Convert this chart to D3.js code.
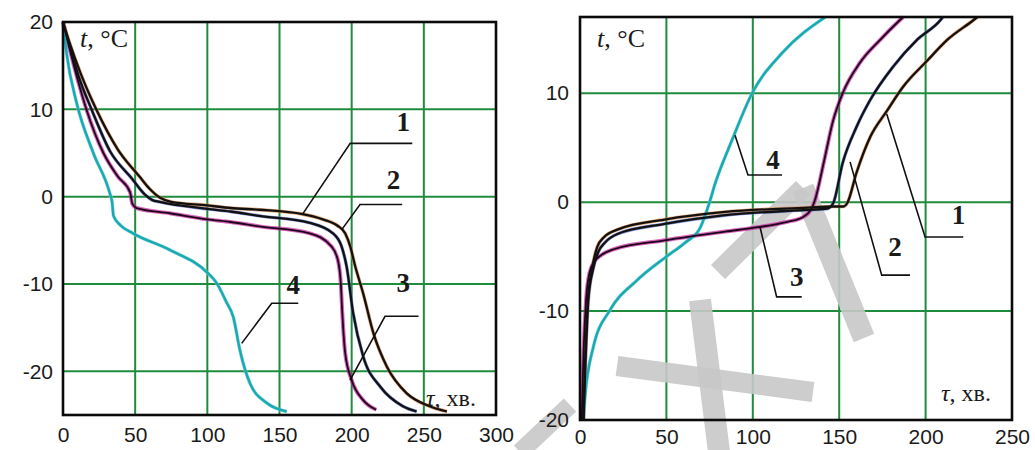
<!DOCTYPE html>
<html>
<head>
<meta charset="utf-8">
<script src="https://cdn.jsdelivr.net/npm/d3@7"></script>
<style>
body{margin:0;background:#fff;}
</style>
</head>
<body>
<svg id="chart" width="1035" height="450"></svg>
<script>
// ---- data: [tau (min), t (°C)] ----
// cooling (left)
var cool1 = [[0,20],[4.6,17.6],[12,14.2],[23,10],[38,5.4],[53,2.3],[60,0.9],[67,-0.1],[75,-0.6],[100,-1.0],[116,-1.3],[136,-1.5],[166,-2.0],[180,-2.6],[190,-3.3],[195.5,-4.2],[199,-5.7],[202.5,-8],[208,-11.1],[215,-15.6],[224.5,-19.5],[238,-22.5],[254,-24],[266,-24.6]];
var cool2 = [[0,20],[4,17.6],[11,13.7],[20,9.9],[32.6,5.2],[47.6,2.1],[57,0.2],[62,-0.4],[67,-0.6],[100,-1.4],[116,-1.7],[136,-2.2],[171,-3.0],[187,-4.2],[193,-5.7],[196.5,-8],[201,-13.3],[208,-18.3],[220,-21.8],[235.5,-24],[245,-24.6]];
var cool3 = [[0,20],[4,17.3],[10,13.5],[16.4,9.9],[28,5],[38,2.3],[46.5,0.5],[48,-0.8],[51,-1.3],[74,-1.9],[100,-2.6],[116,-2.9],[136,-3.4],[171,-4.2],[186,-5.7],[190.5,-7.3],[192.5,-10],[193.5,-13.3],[195.5,-17.9],[200,-21],[208,-23.3],[217,-24.4]];
var cool4 = [[0,20],[2.5,16.4],[9.5,10.7],[21,5],[32.6,0.3],[34,-0.6],[35,-2.2],[40,-3.3],[48.5,-4.2],[74,-6.1],[100,-8.7],[106.5,-9.9],[113,-12],[118,-13.8],[122.6,-17.6],[129.6,-21.4],[141,-23.6],[155,-24.6]];
// heating (right)
var heat1 = [[2,-20],[3,-14.5],[4.6,-9],[6.9,-6.2],[10,-4.1],[14,-3.2],[22,-2.5],[49,-1.6],[84,-0.9],[132,-0.5],[146,-0.4],[152.5,-0.4],[154.6,-0.1],[160,2.7],[168,6],[177.7,8.4],[187,10.6],[201,13],[212.5,14.9],[227.6,16.7],[230,17]];
var heat2 = [[2,-20],[3.2,-14.5],[4.8,-9],[7.5,-6.2],[10.5,-4.6],[14.5,-3.7],[22,-2.9],[49,-2.0],[84,-1.2],[132,-0.7],[143,-0.6],[146.5,-0.1],[152,3.6],[160,6.9],[168,9.4],[181,12.4],[195,14.9],[208.5,16.7],[210,17]];
var heat3 = [[1,-20],[2,-14],[3.5,-9],[5.5,-6.5],[8.5,-5.4],[12,-4.9],[20,-4.3],[49,-3.5],[84,-2.7],[103,-2.3],[120,-1.8],[128.6,-1.4],[134,-0.6],[136,0.2],[141,3.6],[146.5,7.5],[152,10],[162,12.8],[173.7,14.9],[185,16.7],[187,17]];
var heat4 = [[2,-20],[2.9,-17.9],[7.7,-13.3],[17.4,-9.9],[32.8,-7.2],[50,-5.0],[61,-3.7],[69.4,-2.4],[75,0],[78,1.6],[88,5.7],[99.6,10],[117,13.7],[142,17]];

var coolXTicks = [0,50,100,150,200,250,300];
var coolYTicks = [-20,-10,0,10,20];
var heatXTicks = [0,50,100,150,200,250];
var heatYTicks = [-20,-10,0,10];
var curveNames = ['1','2','3','4'];

// ---- layout ----
var svg = d3.select('#chart');
svg.append('rect').attr('width',1035).attr('height',450).attr('fill','#fff');

var panels = [
	{
		x: d3.scaleLinear().domain([0,300]).range([63,496]),
		y: d3.scaleLinear().domain([-25,20]).range([415,22]),
		xTicks: coolXTicks, yTicks: coolYTicks,
		series: [cool1,cool2,cool3,cool4],
		// leaders: anchor on curve, elbow, end, label (data units)
		leaders: [
			{a:[166,-2.0], e:[199,6.1], b:[242,6.1], l:[235.8,8.6]},
			{a:[193,-3.8], e:[205.8,-0.9], b:[235,-0.9], l:[228.9,1.9]},
			{a:[198.9,-21.0], e:[223.1,-13.7], b:[246.3,-13.7], l:[235.8,-9.9]},
			{a:[123.8,-16.8], e:[144.6,-12.2], b:[163,-12.2], l:[159.6,-10.1]}
		],
		tLabel: [80,47], tauLabel: [426,406], yPad: 10, xPad: 12
	},
	{
		x: d3.scaleLinear().domain([0,250]).range([580,1012]),
		y: d3.scaleLinear().domain([-20,17]).range([420,17]),
		xTicks: heatXTicks, yTicks: heatYTicks,
		series: [heat1,heat2,heat3,heat4],
		leaders: [
			{a:[177.5,8.1], e:[199.7,-3.2], b:[221.8,-3.2], l:[219,-1.2]},
			{a:[156.3,3.7], e:[174.6,-6.7], b:[191,-6.7], l:[182.3,-4.1]},
			{a:[104.2,-2.3], e:[113.8,-8.7], b:[128.3,-8.7], l:[125.4,-6.9]},
			{a:[89.7,6.15], e:[97.2,2.5], b:[116.9,2.5], l:[111.7,3.9]}
		],
		tLabel: [597,47], tauLabel: [941,401], yPad: 11, xPad: 9,
		watermark: true
	}
];

// line styles: [under stroke, under width, top stroke, top width]
var styles = [
	['#e0874a',3.6,'#111',2.3],
	['#5a6fd0',3.4,'#111',2.3],
	['#c8229e',4.0,'#1c0619',1.8],
	['#7fd6da',3.6,'#1aa9b3',2.5]
];

var gridColor = '#1f8c3d';

panels.forEach(function(p){
	var g = svg.append('g');
	var x0 = p.x.range()[0], x1 = p.x.range()[1];
	var y0 = p.y.range()[1], y1 = p.y.range()[0];

	// grid
	p.xTicks.forEach(function(v){
		if(v == p.x.domain()[0] || v == p.x.domain()[1]) return;
		g.append('line').attr('x1',p.x(v)).attr('x2',p.x(v)).attr('y1',y0).attr('y2',y1)
			.attr('stroke',gridColor).attr('stroke-width',2);
	});
	p.yTicks.forEach(function(v){
		if(v >= p.y.domain()[1] || v <= p.y.domain()[0]) return;
		g.append('line').attr('x1',x0).attr('x2',x1).attr('y1',p.y(v)).attr('y2',p.y(v))
			.attr('stroke',gridColor).attr('stroke-width',2);
	});

	// watermark traces
	if(p.watermark){
		var wm = [
			[[617,366],[813,392],20],
			[[700,300],[719,452],22],
			[[718,272],[803,188],20],
			[[803,188],[864,338],22],
			[[520,452],[570,405],18]
		];
		wm.forEach(function(w){
			g.append('line').attr('x1',w[0][0]).attr('y1',w[0][1]).attr('x2',w[1][0]).attr('y2',w[1][1])
				.attr('stroke','#c8c8c8').attr('stroke-width',w[2]).attr('opacity',0.9);
		});
	}

	// curves
	var line = d3.line()
		.x(function(d){ return p.x(d[0]); })
		.y(function(d){ return p.y(d[1]); })
		.curve(d3.curveMonotoneX);
	var order = [3,2,1,0];
	order.forEach(function(i){
		var s = styles[i];
		g.append('path').attr('d',line(p.series[i])).attr('fill','none')
			.attr('stroke',s[0]).attr('stroke-width',s[1]).attr('opacity',0.7);
	});
	order.forEach(function(i){
		var s = styles[i];
		g.append('path').attr('d',line(p.series[i])).attr('fill','none')
			.attr('stroke',s[2]).attr('stroke-width',s[3]);
	});

	// leaders and curve numbers
	p.leaders.forEach(function(L,i){
		g.append('polyline')
			.attr('points',[L.a,L.e,L.b].map(function(d){ return p.x(d[0])+','+p.y(d[1]); }).join(' '))
			.attr('fill','none').attr('stroke','#111').attr('stroke-width',1.6);
		g.append('text').attr('x',p.x(L.l[0])).attr('y',p.y(L.l[1]))
			.attr('text-anchor','middle').attr('dominant-baseline','central')
			.style('font-family','"Liberation Serif", "DejaVu Serif", serif')
			.style('font-size','27px').style('font-weight','bold').style('fill','#1a1a1a')
			.text(curveNames[i]);
	});

	// frame
	g.append('rect').attr('x',x0).attr('y',y0).attr('width',x1-x0).attr('height',y1-y0)
		.attr('fill','none').attr('stroke','#0a0a0a').attr('stroke-width',2.6);

	// axes labels
	var fmt = function(d){ return String(d); };
	var ax = g.append('g').attr('transform','translate('+x0+',0)')
		.call(d3.axisLeft(p.y).tickValues(p.yTicks).tickSize(0).tickPadding(p.yPad).tickFormat(fmt));
	var bx = g.append('g').attr('transform','translate(0,'+y1+')')
		.call(d3.axisBottom(p.x).tickValues(p.xTicks).tickSize(0).tickPadding(p.xPad).tickFormat(fmt));
	[ax,bx].forEach(function(a){
		a.select('.domain').remove();
		a.selectAll('text').style('font-family','"Liberation Sans", Arial, sans-serif')
			.style('font-size','21px').style('fill','#1a1a1a');
	});

	// t, °C
	var tl = g.append('text').attr('x',p.tLabel[0]).attr('y',p.tLabel[1])
		.style('font-family','"Liberation Serif", serif').style('font-size','26px').style('fill','#1a1a1a');
	tl.append('tspan').style('font-style','italic').text('t');
	tl.append('tspan').text(', °C');

	// τ, хв.
	var tau = g.append('text').attr('x',p.tauLabel[0]).attr('y',p.tauLabel[1])
		.style('font-family','"Liberation Serif", serif').style('font-size','24px').style('fill','#1a1a1a');
	tau.append('tspan').style('font-style','italic').text('τ');
	tau.append('tspan').text(', хв.');
});
</script>
</body>
</html>
